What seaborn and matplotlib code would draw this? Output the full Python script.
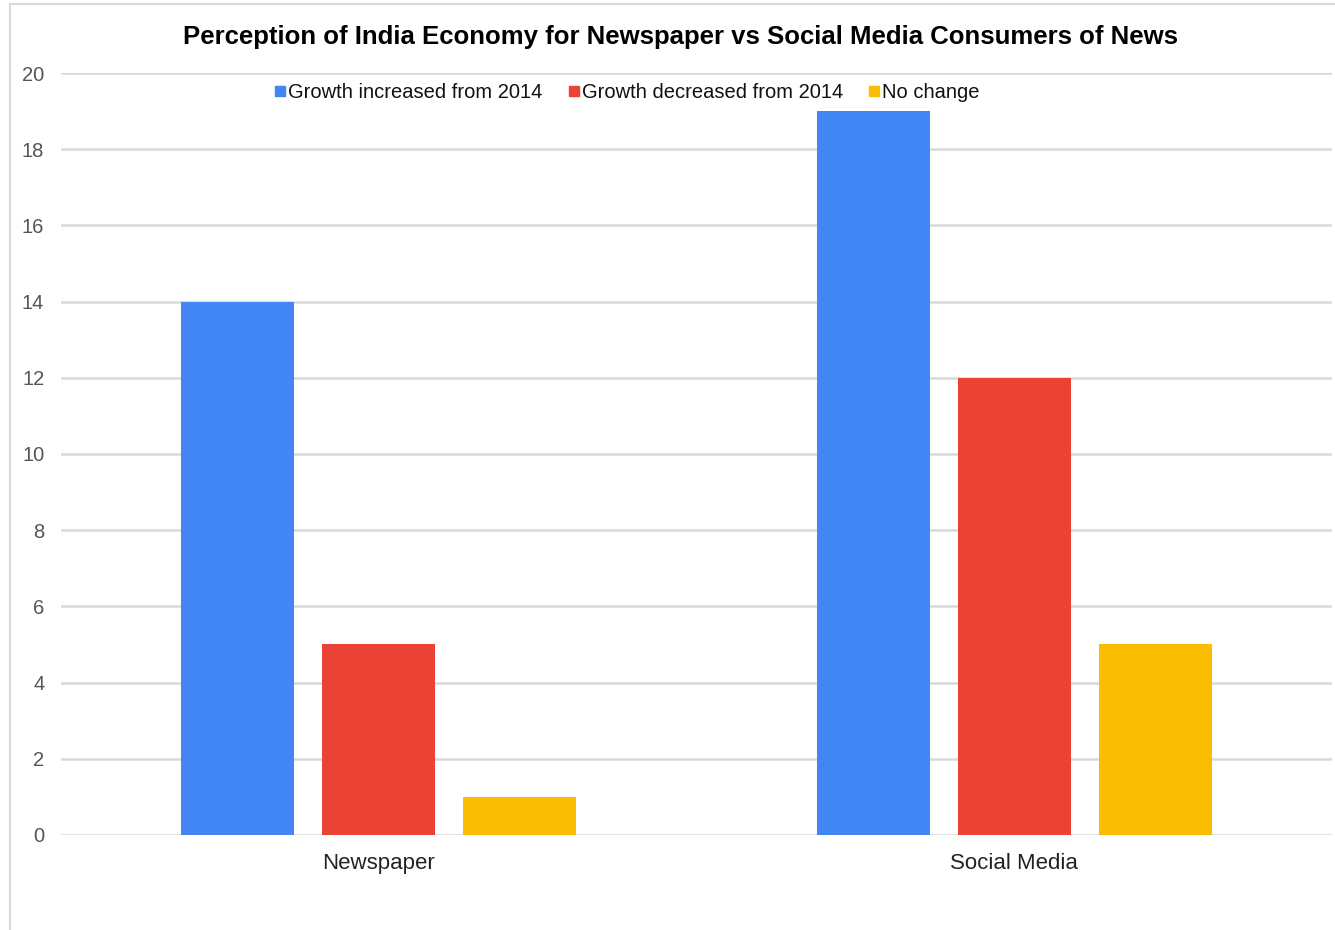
import matplotlib
matplotlib.use("Agg")
import matplotlib.pyplot as plt
from matplotlib.lines import Line2D
import seaborn as sns
import pandas as pd

sources = ["Newspaper", "Social Media"]
perceptions = ["Growth increased from 2014", "Growth decreased from 2014", "No change"]
increased = [14, 19]
decreased = [5, 12]
no_change = [1, 5]
colors = ["#4285F4", "#EA4335", "#FBBC04"]

rows = []
for name, vals in zip(perceptions, [increased, decreased, no_change]):
    for src, v in zip(sources, vals):
        rows.append({"Source": src, "Perception": name, "Count": v})
df = pd.DataFrame(rows)

sns.set_theme(style="white")
plt.rcParams["font.family"] = ["Liberation Sans", "DejaVu Sans"]

fig = plt.figure(figsize=(13.35, 9.3), dpi=100)
ax = fig.add_axes([0.0457, 0.1022, 0.9521, 0.8193])

sns.barplot(data=df, x="Source", y="Count", hue="Perception", hue_order=perceptions,
            palette=colors, width=0.666, gap=0.2, saturation=1, ax=ax, legend=False,
            edgecolor="none", errorbar=None)

ax.set_xlim(-0.5, 1.5)
ax.set_ylim(0, 20)
ax.set_yticks(range(0, 21, 2))
ax.yaxis.grid(True, color="#d9d9d9", linewidth=1.8)
ax.set_axisbelow(True)
for s in ax.spines.values():
    s.set_visible(False)
ax.set_xlabel("")
ax.set_ylabel("")
ax.tick_params(axis="y", labelsize=14.5, labelcolor="#555555", length=0, pad=12)
ax.tick_params(axis="x", labelsize=16, labelcolor="#222222", length=0, pad=13)

fig.text(0.51, 0.960, "Perception of India Economy for Newspaper vs Social Media Consumers of News",
         ha="center", va="center", fontsize=18.5, fontweight="bold", color="#000000")

handles = [Line2D([], [], marker="s", linestyle="none", markersize=7,
                  markerfacecolor=c, markeredgecolor=c) for c in colors]
fig.legend(handles, perceptions, loc="center", bbox_to_anchor=(0.47, 0.901), ncol=3,
           frameon=False, fontsize=14.5, handlelength=0.5, handletextpad=0.15,
           columnspacing=1.3, labelcolor="#111111")

# light frame along the top and left edges
fig.add_artist(Line2D([0.0075, 0.0075], [0, 0.996], transform=fig.transFigure,
                      color="#d9d9d9", linewidth=1.5))
fig.add_artist(Line2D([0.0075, 1.0], [0.996, 0.996], transform=fig.transFigure,
                      color="#d9d9d9", linewidth=1.5))

fig.savefig("out.png", dpi=100, facecolor="white")
